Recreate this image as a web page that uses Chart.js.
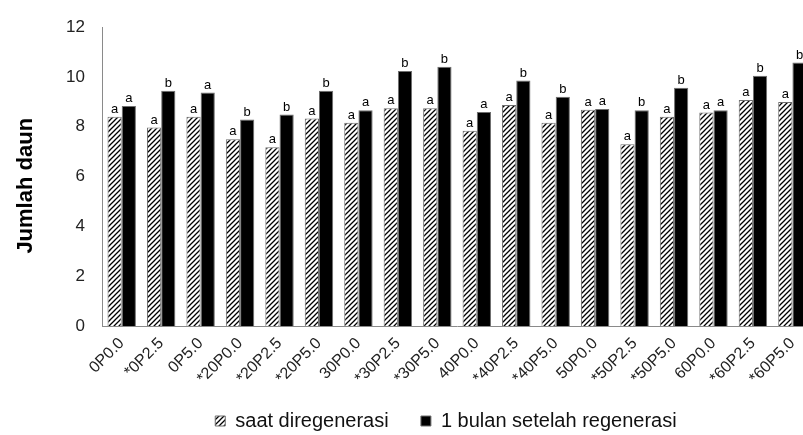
<!DOCTYPE html>
<html>
<head>
<meta charset="utf-8">
<script src="https://cdn.jsdelivr.net/npm/chart.js@4/dist/chart.umd.min.js"></script>
<style>
  html, body { margin: 0; padding: 0; background: #fff; overflow: hidden; }
  #wrap { position: absolute; left: 0; top: 0; }
</style>
</head>
<body>
<div id="wrap"><canvas id="chart" width="814" height="441"></canvas></div>
<script>
const categories = ["0P0.0", "*0P2.5", "0P5.0", "*20P0.0", "*20P2.5", "*20P5.0", "30P0.0", "*30P2.5", "*30P5.0",
  "40P0.0", "*40P2.5", "*40P5.0", "50P0.0", "*50P2.5", "*50P5.0", "60P0.0", "*60P2.5", "*60P5.0"];
const saatValues = [8.40, 7.97, 8.40, 7.50, 7.18, 8.33, 8.16, 8.75, 8.75, 7.84, 8.88, 8.16, 8.68, 7.30, 8.40, 8.57, 9.08, 9.00];
const bulanValues = [8.84, 9.45, 9.38, 8.29, 8.49, 9.45, 8.66, 10.24, 10.41, 8.59, 9.86, 9.21, 8.71, 8.66, 9.57, 8.66, 10.05, 10.58];
const saatLetters = ["a", "a", "a", "a", "a", "a", "a", "a", "a", "a", "a", "a", "a", "a", "a", "a", "a", "a"];
const bulanLetters = ["a", "b", "a", "b", "b", "b", "a", "b", "b", "a", "b", "b", "a", "b", "b", "a", "b", "b"];
const yTicks = [0, 2, 4, 6, 8, 10, 12];

const FONT = "'Liberation Sans', Arial, sans-serif";

// diagonal hatch for the first series
function makeHatch() {
  const s = 5;
  const c = document.createElement("canvas");
  c.width = s; c.height = s;
  const g = c.getContext("2d");
  g.fillStyle = "#fff";
  g.fillRect(0, 0, s, s);
  g.strokeStyle = "#000";
  g.lineWidth = 1.3;
  g.beginPath();
  g.moveTo(-1, s + 1); g.lineTo(s + 1, -1);
  g.moveTo(-1, 1); g.lineTo(1, -1);
  g.moveTo(s - 1, s + 1); g.lineTo(s + 1, s - 1);
  g.stroke();
  return g.createPattern(c, "repeat");
}
const hatch = makeHatch();

// letters above bars
const letterPlugin = {
  id: "letters",
  afterDatasetsDraw(chart) {
    const ctx = chart.ctx;
    const sets = [saatLetters, bulanLetters];
    ctx.save();
    ctx.font = "13px " + FONT;
    ctx.fillStyle = "#000";
    ctx.textAlign = "center";
    ctx.textBaseline = "bottom";
    chart.data.datasets.forEach((ds, i) => {
      chart.getDatasetMeta(i).data.forEach((bar, j) => {
        ctx.fillText(sets[i][j], bar.x, bar.y - 1);
      });
    });
    ctx.restore();
  }
};

new Chart(document.getElementById("chart"), {
  type: "bar",
  data: {
    labels: categories,
    datasets: [
      {
        label: "saat diregenerasi    ",
        data: saatValues,
        backgroundColor: hatch,
        borderColor: "#6e6e6e",
        borderWidth: 1,
        categoryPercentage: 0.72,
        barPercentage: 1.0,
      },
      {
        label: "1 bulan setelah regenerasi    ",
        data: bulanValues,
        backgroundColor: "#000",
        borderColor: "#6e6e6e",
        borderWidth: 1,
        categoryPercentage: 0.72,
        barPercentage: 1.0,
      },
    ],
  },
  options: {
    responsive: false,
    animation: false,
    devicePixelRatio: 1,
    layout: { padding: { top: 22, right: 1, left: 0, bottom: 0 } },
    plugins: {
      tooltip: { enabled: false },
      legend: {
        position: "bottom",
        fullSize: false,
        labels: {
          boxWidth: 10,
          boxHeight: 10,
          padding: 10,
          color: "#111",
          font: { family: FONT, size: 20 },
        },
      },
    },
    scales: {
      x: {
        grid: { display: false, drawTicks: false },
        border: { display: true, color: "#8a8a8a", width: 1 },
        ticks: {
          minRotation: 45,
          maxRotation: 45,
          padding: 8,
          color: "#222",
          font: { family: FONT, size: 16 },
        },
        afterFit: (scale) => { scale.height = 75; },
      },
      y: {
        min: 0,
        max: 12,
        grid: { display: false, drawTicks: false },
        border: { display: true, color: "#8a8a8a", width: 1 },
        ticks: {
          stepSize: 2,
          padding: 17,
          color: "#222",
          font: { family: FONT, size: 17 },
          callback: (v) => (yTicks.includes(v) ? v : ""),
        },
        title: {
          display: true,
          text: "Jumlah daun   ",
          color: "#000",
          font: { family: FONT, size: 22, weight: "bold" },
          padding: { top: 13, bottom: 0 },
        },
        afterFit: (scale) => { scale.width = 102; },
      },
    },
  },
  plugins: [letterPlugin],
});
</script>
</body>
</html>
